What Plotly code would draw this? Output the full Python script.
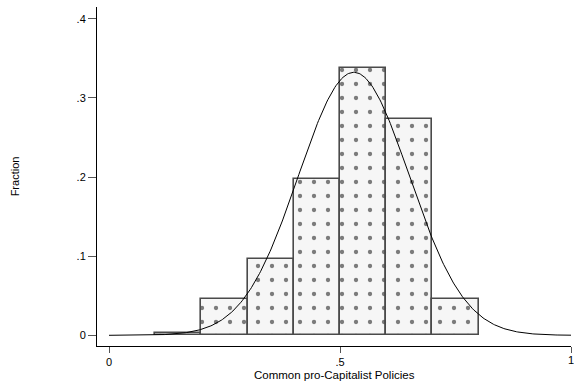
import numpy as np
import plotly.graph_objects as go

# Histogram of the policy index (fraction of observations per bin)
bin_left = [0.1, 0.2, 0.3, 0.4, 0.5, 0.6, 0.7]
bin_width = 0.1
fraction = [0.003, 0.046, 0.096, 0.198, 0.338, 0.273, 0.046]

# Fitted normal overlay parameters
mu = 0.53
sigma = 0.12

y_tickvals = [0, 0.1, 0.2, 0.3, 0.4]
y_ticktext = ["0", ".1", ".2", ".3", ".4"]
x_tickvals = [0, 0.5, 1]
x_ticktext = ["0", ".5", "1"]
x_title = "Common pro-Capitalist Policies"

FONT = "Liberation Sans, Arial, Helvetica, sans-serif"

centers = [b + bin_width / 2 for b in bin_left]

fig = go.Figure()
fig.add_trace(go.Bar(
    x=centers,
    y=fraction,
    width=[bin_width] * len(centers),
    marker=dict(
        color="#f6f6f6",
        line=dict(color="#4a4a4a", width=1.6),
        pattern=dict(shape=".", fgcolor="#000000", bgcolor="#f6f6f6",
                     size=14, solidity=0.075, fillmode="overlay"),
    ),
    showlegend=False,
    hoverinfo="skip",
))

# Normal density scaled to fraction-per-bin units
xs = np.linspace(0, 1, 400)
dens = bin_width * np.exp(-0.5 * ((xs - mu) / sigma) ** 2) / (sigma * np.sqrt(2 * np.pi))
fig.add_trace(go.Scatter(
    x=xs, y=dens, mode="lines",
    line=dict(color="#000000", width=1),
    showlegend=False, hoverinfo="skip",
))

# The last x tick label sits on the page edge, so it is placed as an annotation
fig.add_annotation(
    x=x_tickvals[-1], xref="x", y=0, yref="paper",
    text=x_ticktext[-1], showarrow=False,
    xanchor="center", yanchor="top", yshift=-6,
    font=dict(family=FONT, size=11, color="#000000"),
)

# Axis title placed below the tick labels
fig.add_annotation(
    x=0.5, xref="paper", y=0, yref="paper",
    text=x_title, showarrow=False,
    xanchor="center", yanchor="middle", yshift=-29,
    font=dict(family=FONT, size=11.5, color="#000000"),
)

fig.update_layout(
    width=574, height=381,
    margin=dict(l=97, r=3, t=7, b=35),
    paper_bgcolor="white",
    plot_bgcolor="white",
    bargap=0,
    font=dict(family=FONT, size=11, color="#000000"),
    xaxis=dict(
        range=[-0.026, 1.0],
        tickvals=x_tickvals, ticktext=x_ticktext[:-1] + [""],
        ticks="outside", ticklen=6, tickwidth=1, tickcolor="#555555",
        ticklabelstandoff=0,
        showline=True, linecolor="#000000", linewidth=1,
        showgrid=False, zeroline=False,
        tickfont=dict(size=11, color="#000000"),
    ),
    yaxis=dict(
        range=[-0.0135, 0.415],
        tickvals=y_tickvals, ticktext=y_ticktext,
        ticks="outside", ticklen=8, tickwidth=1, tickcolor="#555555",
        showline=True, linecolor="#000000", linewidth=1,
        showgrid=False, zeroline=False,
        tickfont=dict(size=11, color="#000000"),
        title=dict(text="Fraction", font=dict(size=11, color="#000000"), standoff=54),
    ),
)

fig.write_html("out.html")
